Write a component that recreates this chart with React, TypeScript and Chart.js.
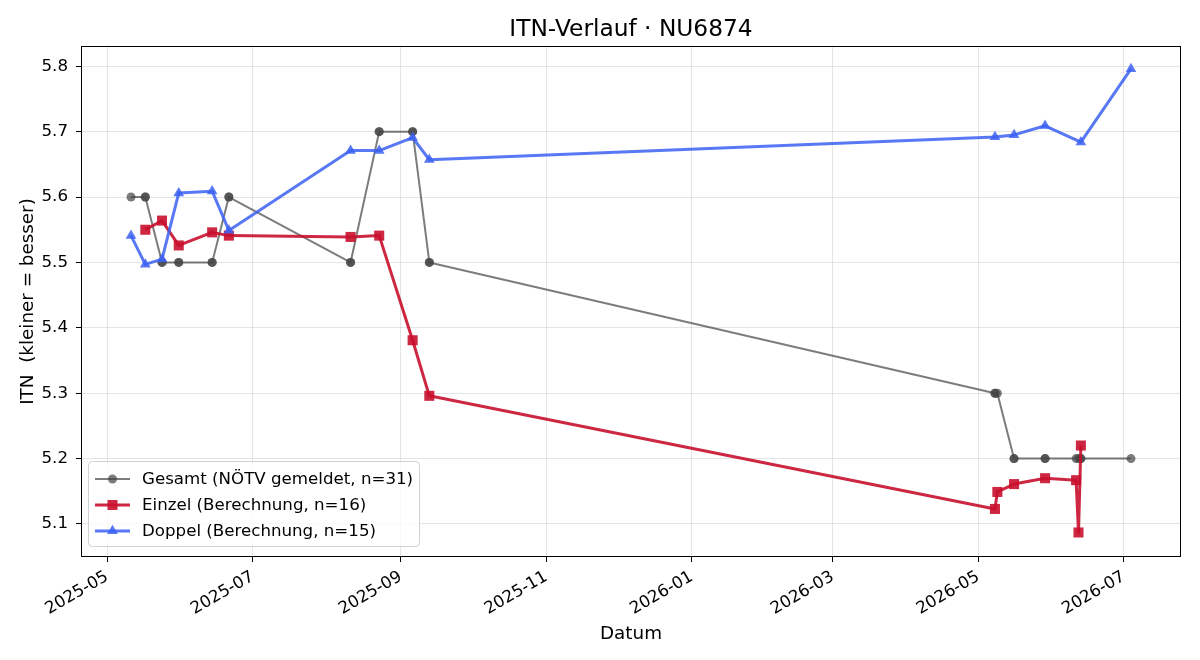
import React, { useEffect, useRef } from 'react';
import { Chart, registerables } from 'chart.js';

Chart.register(...registerables);

const FONT = '"DejaVu Sans", "Liberation Sans", sans-serif';

const TITLE = 'ITN-Verlauf · NU6874';
const X_LABEL = 'Datum';
const Y_LABEL = 'ITN  (kleiner = besser)';

const gesamtLabel = 'Gesamt (NÖTV gemeldet, n=31)';
const einzelLabel = 'Einzel (Berechnung, n=16)';
const doppelLabel = 'Doppel (Berechnung, n=15)';

// Gesamt: one reported value per match (31 matches, several on the same day)
const gesamtDates = [
  '2025-05-11',
  '2025-05-17', '2025-05-17',
  '2025-05-24', '2025-05-24',
  '2025-05-31', '2025-05-31',
  '2025-06-14', '2025-06-14',
  '2025-06-21', '2025-06-21',
  '2025-08-11', '2025-08-11',
  '2025-08-23', '2025-08-23',
  '2025-09-06', '2025-09-06',
  '2025-09-13', '2025-09-13',
  '2026-05-08', '2026-05-08',
  '2026-05-09',
  '2026-05-16', '2026-05-16',
  '2026-05-29', '2026-05-29',
  '2026-06-11',
  '2026-06-12',
  '2026-06-13', '2026-06-13',
  '2026-07-04',
];
const gesamtValues = [
  5.6,
  5.6, 5.6,
  5.5, 5.5,
  5.5, 5.5,
  5.5, 5.5,
  5.6, 5.6,
  5.5, 5.5,
  5.7, 5.7,
  5.7, 5.7,
  5.5, 5.5,
  5.3, 5.3,
  5.3,
  5.2, 5.2,
  5.2, 5.2,
  5.2,
  5.2,
  5.2, 5.2,
  5.2,
];

const einzelDates = [
  '2025-05-17', '2025-05-24', '2025-05-31', '2025-06-14', '2025-06-21',
  '2025-08-11', '2025-08-23', '2025-09-06', '2025-09-13',
  '2026-05-08', '2026-05-09', '2026-05-16', '2026-05-29',
  '2026-06-11', '2026-06-12', '2026-06-13',
];
const einzelValues = [
  5.550, 5.564, 5.526, 5.546, 5.541,
  5.539, 5.541, 5.381, 5.296,
  5.123, 5.149, 5.161, 5.170,
  5.167, 5.087, 5.220,
];

const doppelDates = [
  '2025-05-11', '2025-05-17', '2025-05-24', '2025-05-31', '2025-06-14', '2025-06-21',
  '2025-08-11', '2025-08-23', '2025-09-06', '2025-09-13',
  '2026-05-08', '2026-05-16', '2026-05-29', '2026-06-13', '2026-07-04',
];
const doppelValues = [
  5.541, 5.497, 5.505, 5.606, 5.609, 5.549,
  5.671, 5.671, 5.691, 5.657,
  5.692, 5.695, 5.709, 5.684, 5.796,
];

const xTickLabels = ['2025-05', '2025-07', '2025-09', '2025-11', '2026-01', '2026-03', '2026-05', '2026-07'];
const yTickValues = [5.1, 5.2, 5.3, 5.4, 5.5, 5.6, 5.7, 5.8];
const Y_MIN = 5.0495;
const Y_MAX = 5.831;

const GRAY = 'rgba(68,68,68,0.7)';
const RED = 'rgba(200,16,46,0.9)';
const BLUE = 'rgba(61,98,242,0.86)';

const toMs = (d: string) => Date.parse(d + 'T00:00:00Z');
const xTicks = xTickLabels.map((m) => toMs(m + '-01'));

const allX = [...gesamtDates, ...einzelDates, ...doppelDates].map(toMs);
const dataMinX = Math.min(...allX);
const dataMaxX = Math.max(...allX);
const spanX = dataMaxX - dataMinX;
const X_MIN = dataMinX - 0.05 * spanX;
const X_MAX = dataMaxX + 0.05 * spanX;

const toPoints = (dates: string[], values: number[]) =>
  dates.map((d, i) => ({ x: toMs(d), y: values[i] }));

type LegendItem = { label: string; color: string; width: number; style: 'circle' | 'rect' | 'triangle' };
const legendItems: LegendItem[] = [
  { label: gesamtLabel, color: GRAY, width: 2, style: 'circle' },
  { label: einzelLabel, color: RED, width: 3, style: 'rect' },
  { label: doppelLabel, color: BLUE, width: 3, style: 'triangle' },
];

function drawMarker(ctx: CanvasRenderingContext2D, style: string, x: number, y: number) {
  ctx.beginPath();
  if (style === 'circle') {
    ctx.arc(x, y, 4.5, 0, Math.PI * 2);
  } else if (style === 'rect') {
    ctx.rect(x - 5, y - 5, 10, 10);
  } else {
    const r = 6.2;
    for (let k = 0; k < 3; k++) {
      const a = (k * 2 * Math.PI) / 3;
      const px = x + Math.sin(a) * r;
      const py = y - Math.cos(a) * r;
      if (k === 0) ctx.moveTo(px, py);
      else ctx.lineTo(px, py);
    }
    ctx.closePath();
  }
  ctx.fill();
}

const decorPlugin = {
  id: 'decor',
  afterDatasetsDraw(chart: any) {
    const { ctx, chartArea: a } = chart;
    ctx.save();
    ctx.strokeStyle = '#000';
    ctx.lineWidth = 1;
    ctx.strokeRect(Math.round(a.left) + 0.5, Math.round(a.top) + 0.5, Math.round(a.right - a.left) - 1, Math.round(a.bottom - a.top) - 1);
    ctx.restore();
  },
  afterDraw(chart: any) {
    const { ctx, chartArea: a } = chart;
    const cx = (a.left + a.right) / 2;
    const cy = (a.top + a.bottom) / 2;
    ctx.save();
    ctx.fillStyle = '#000';
    // title
    ctx.font = `23.3px ${FONT}`;
    ctx.textAlign = 'center';
    ctx.textBaseline = 'alphabetic';
    ctx.fillText(TITLE, cx, 36);
    // x label
    ctx.font = `18.33px ${FONT}`;
    ctx.fillText(X_LABEL, cx, 639);
    // y label
    ctx.save();
    ctx.translate(32.5, cy);
    ctx.rotate(-Math.PI / 2);
    ctx.fillText(Y_LABEL, 0, 0);
    ctx.restore();

    // legend
    const bx = 88.5, by = 461.5, bw = 331, bh = 85;
    ctx.beginPath();
    ctx.roundRect(bx, by, bw, bh, 4);
    ctx.fillStyle = 'rgba(255,255,255,0.8)';
    ctx.fill();
    ctx.strokeStyle = 'rgba(204,204,204,0.9)';
    ctx.lineWidth = 1;
    ctx.stroke();
    legendItems.forEach((it, i) => {
      const y = 479 + i * 26;
      ctx.strokeStyle = it.color;
      ctx.lineWidth = it.width;
      ctx.beginPath();
      ctx.moveTo(95, y);
      ctx.lineTo(130, y);
      ctx.stroke();
      ctx.fillStyle = it.color;
      drawMarker(ctx, it.style, 112.5, y);
      ctx.fillStyle = '#000';
      ctx.font = `16.67px ${FONT}`;
      ctx.textAlign = 'left';
      ctx.textBaseline = 'middle';
      ctx.fillText(it.label, 142, y + 1);
    });
    ctx.restore();
  },
};

export default function App() {
  const ref = useRef<HTMLCanvasElement | null>(null);

  useEffect(() => {
    document.body.style.margin = '0';
    const canvas = ref.current;
    if (!canvas) return;
    const gridOpts = {
      color: 'rgba(176,176,176,0.33)',
      lineWidth: 1,
      tickColor: '#000',
      tickLength: 5,
      tickWidth: 1,
    };
    const chart = new Chart(canvas, {
      type: 'line',
      data: {
        datasets: [
          {
            label: doppelLabel,
            data: toPoints(doppelDates, doppelValues),
            order: 0,
            borderColor: BLUE,
            backgroundColor: BLUE,
            borderWidth: 3,
            borderJoinStyle: 'round',
            pointStyle: 'triangle',
            pointRadius: 6.2,
            pointBorderWidth: 0,
            pointBackgroundColor: BLUE,
            tension: 0,
          },
          {
            label: einzelLabel,
            data: toPoints(einzelDates, einzelValues),
            order: 1,
            borderColor: RED,
            backgroundColor: RED,
            borderWidth: 3,
            borderJoinStyle: 'round',
            pointStyle: 'rect',
            pointRadius: 7.1,
            pointBorderWidth: 0,
            pointBackgroundColor: RED,
            tension: 0,
          },
          {
            label: gesamtLabel,
            data: toPoints(gesamtDates, gesamtValues),
            order: 2,
            borderColor: GRAY,
            backgroundColor: GRAY,
            borderWidth: 2,
            borderJoinStyle: 'round',
            pointStyle: 'circle',
            pointRadius: 4.5,
            pointBorderWidth: 0,
            pointBackgroundColor: GRAY,
            tension: 0,
          },
        ],
      },
      options: {
        responsive: false,
        animation: false,
        events: [],
        layout: { padding: { left: 0, top: 46, right: 19, bottom: 0 } },
        plugins: {
          legend: { display: false },
          title: { display: false },
          tooltip: { enabled: false },
        },
        scales: {
          x: {
            type: 'linear',
            min: X_MIN,
            max: X_MAX,
            bounds: 'data',
            afterBuildTicks: (s: any) => {
              s.ticks = xTicks.map((v) => ({ value: v }));
            },
            afterFit: (s: any) => {
              s.height = 103;
            },
            ticks: {
              callback: (_v: any, i: number) => xTickLabels[i],
              autoSkip: false,
              minRotation: 30,
              maxRotation: 30,
              padding: 5,
              color: '#000',
              font: { family: FONT, size: 16.67 },
            },
            grid: gridOpts,
            border: { display: false },
          },
          y: {
            type: 'linear',
            min: Y_MIN,
            max: Y_MAX,
            bounds: 'data',
            afterBuildTicks: (s: any) => {
              s.ticks = yTickValues.map((v) => ({ value: v }));
            },
            afterFit: (s: any) => {
              s.width = 81;
            },
            ticks: {
              callback: (v: any) => Number(v).toFixed(1),
              padding: 8,
              color: '#000',
              font: { family: FONT, size: 16.67 },
            },
            grid: gridOpts,
            border: { display: false },
          },
        },
      },
      plugins: [decorPlugin],
    } as any);
    return () => chart.destroy();
  }, []);

  return (
    <div style={{ position: 'absolute', left: 0, top: 0, width: 1200, height: 660, background: '#fff' }}>
      <canvas ref={ref} width={1200} height={660} style={{ display: 'block' }} />
    </div>
  );
}
